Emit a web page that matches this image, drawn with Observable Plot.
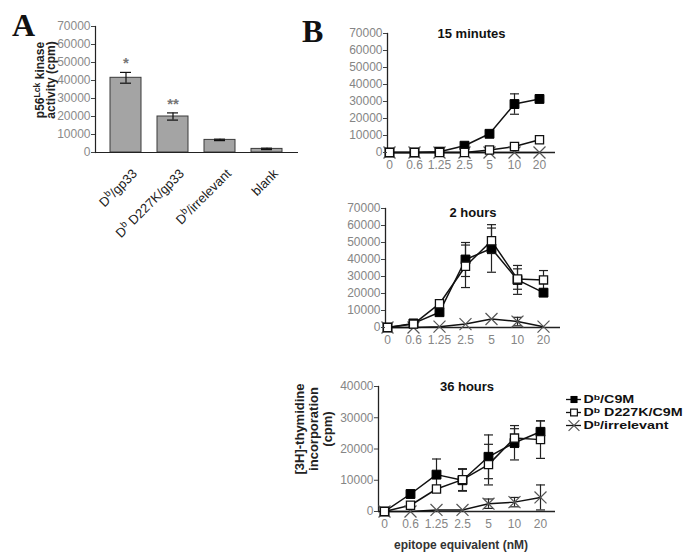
<!DOCTYPE html>
<html>
<head>
<meta charset="utf-8">
<script src="https://cdn.jsdelivr.net/npm/d3@7"></script>
<script src="https://cdn.jsdelivr.net/npm/@observablehq/plot@0.6"></script>
<style>
  html, body { margin: 0; padding: 0; background: #fff; }
  #root { position: relative; width: 693px; height: 559px; overflow: hidden; background: #fff; font-family: "Liberation Sans", Arial, sans-serif; }
  #root svg { position: absolute; overflow: visible; }
  .panel { position: absolute; font-family: "Liberation Serif", "Times New Roman", serif; font-weight: bold; font-size: 32px; line-height: 32px; color: #111; }
  .ylab { position: absolute; transform: translate(-50%, -50%) rotate(-90deg); white-space: nowrap; text-align: center; font-weight: bold; color: #222; }
  .ylab sup { font-size: 72%; line-height: 0; vertical-align: 0.45em; }
</style>
</head>
<body>
<div id="root"></div>
<script>
// ---------- Panel A data ----------
const catsA = ["D^b/gp33", "D^b D227K/gp33", "D^b/irrelevant", "blank"];
const kinaseA = [41500, 20000, 7000, 2000];
const kinaseErrA = [3000, 2000, 400, 400];
const sigA = ["*", "**", "", ""];
const yTicksA = [0, 10000, 20000, 30000, 40000, 50000, 60000, 70000];

// ---------- Panel B data ----------
const doses = ["0", "0.6", "1.25", "2.5", "5", "10", "20"];
const seriesB = ["D^b/C9M", "D^b D227K/C9M", "D^b/irrelevant"];

const min15_wt = [0, 0, 500, 4000, 11000, 28500, 31500];
const min15_wtErr = [0, 0, 0, 0, 0, 6000, 0];
const min15_mut = [0, 0, 0, 0, 1500, 3500, 7500];
const min15_mutErr = [0, 0, 0, 0, 0, 0, 0];
const min15_irr = [0, 0, 0, 0, 0, 0, 0];
const min15_irrErr = [0, 0, 0, 0, 0, 0, 0];

const h2_wt = [0, 2400, 9000, 40000, 46500, 28000, 20500];
const h2_wtErr = [0, 0, 0, 10000, 14000, 8500, 0];
const h2_mut = [0, 2000, 14000, 36000, 51000, 28500, 28000];
const h2_mutErr = [0, 0, 0, 12500, 7500, 6000, 5500];
const h2_irr = [0, 0, 500, 2000, 5000, 3500, 500];
const h2_irrErr = [0, 0, 0, 0, 0, 2500, 0];

const h36_wt = [0, 5600, 11800, 10000, 17500, 22000, 25500];
const h36_wtErr = [0, 0, 5000, 3500, 7000, 5500, 3500];
const h36_mut = [0, 2000, 7200, 10200, 15000, 23500, 23000];
const h36_mutErr = [0, 0, 0, 3500, 6500, 3000, 6000];
const h36_irr = [0, 0, 500, 500, 2500, 3000, 4500];
const h36_irrErr = [0, 0, 0, 0, 1500, 1500, 4000];

const yTicks70 = [0, 10000, 20000, 30000, 40000, 50000, 60000, 70000];
const yTicks40 = [0, 10000, 20000, 30000, 40000];

const titles = ["15 minutes", "2 hours", "36 hours"];
const xLabelB = "epitope equivalent (nM)";

// ---------- helpers ----------
const NS = "http://www.w3.org/2000/svg";
function supify(root, shift) {
  root.querySelectorAll("text").forEach(t => {
    if (t.querySelector("tspan")) return;
    const s = t.textContent;
    if (!s.includes("^")) return;
    const parts = s.split(/\^(\w+)/);
    t.textContent = "";
    let afterSup = false;
    parts.forEach((p, i) => {
      if (!p) return;
      const ts = document.createElementNS(NS, "tspan");
      ts.textContent = p;
      if (i % 2) {
        ts.setAttribute("dy", -shift);
        ts.style.fontSize = "0.72em";
        afterSup = true;
      } else if (afterSup) {
        ts.setAttribute("dy", shift);
        afterSup = false;
      }
      t.appendChild(ts);
    });
  });
}
// widen glyphs horizontally around each text's anchor (the source figure is horizontally stretched)
function stretchText(root, sx) {
  root.querySelectorAll("text").forEach(t => {
    let tf = t.getAttribute("transform") || "";
    const x = t.getAttribute("x");
    if (x != null && !isNaN(+x)) { tf += ` translate(${+x},0)`; t.removeAttribute("x"); }
    t.setAttribute("transform", tf + ` scale(${sx},1)`);
  });
}
const root = document.getElementById("root");
function place(svg, left, top) {
  svg.style.left = left + "px";
  svg.style.top = top + "px";
  root.appendChild(svg);
}
const fmt = d3.format("d");
const baseStyle = {fontFamily: "'Liberation Sans', Arial, sans-serif", fontSize: "12px", background: "transparent", overflow: "visible"};
// horizontal cap symbol for error bars (half-width = r)
const capSymbol = {draw(ctx, size) { const w = Math.sqrt(size / Math.PI); ctx.moveTo(-w, 0); ctx.lineTo(w, 0); }};

// ---------- Panel A ----------
const dataA = catsA.map((c, i) => ({cat: c, value: kinaseA[i], err: kinaseErrA[i], sig: sigA[i]}));
const svgA = Plot.plot({
  width: 303, height: 240,
  marginLeft: 95, marginRight: 5, marginTop: 26, marginBottom: 88,
  style: baseStyle,
  x: {type: "band", domain: catsA, paddingInner: 0.33, paddingOuter: 0.29},
  y: {domain: [0, 70000]},
  marks: [
    Plot.barY(dataA, {x: "cat", y: "value", fill: "#a4a4a4", stroke: "#3a3a3a", strokeWidth: 1}),
    Plot.ruleX(dataA, {x: "cat", y1: d => d.value - d.err, y2: d => d.value + d.err, stroke: "#111", strokeWidth: 1.2}),
    Plot.tickY(dataA, {x: "cat", y: d => d.value + d.err, insetLeft: 10, insetRight: 10, stroke: "#111", strokeWidth: 1.2}),
    Plot.tickY(dataA, {x: "cat", y: d => d.value - d.err, insetLeft: 10, insetRight: 10, stroke: "#111", strokeWidth: 1.2}),
    Plot.text(dataA, {x: "cat", y: d => d.value + d.err, text: "sig", dy: -9, fill: "#777", fontSize: 15, fontWeight: "bold"}),
    Plot.ruleY([0], {stroke: "#222", strokeWidth: 1.2}),
    Plot.frame({anchor: "left", stroke: "#222", strokeWidth: 1.2}),
    Plot.axisY({ticks: yTicksA, tickFormat: fmt, tickSize: 4, tickPadding: 1, fill: "#8a8a8a", stroke: "#444", label: null}),
    Plot.axisX({tickSize: 0, tickPadding: 19, tickRotate: -45, dx: 9, fill: "#222", fontSize: 13, label: null})
  ]
});
supify(svgA, 5);
place(svgA, 0, 0);

// ---------- Panel B ----------
function makeB(o) {
  const rows = [];
  const sets = [[o.wt, o.wtErr], [o.mut, o.mutErr], [o.irr, o.irrErr]];
  sets.forEach(([vals, errs], s) => vals.forEach((v, i) => rows.push({dose: doses[i], value: v, err: errs[i], series: seriesB[s]})));
  const errRows = rows.filter(d => d.err > 0);
  const bySeries = k => rows.filter(d => d.series === seriesB[k]);
  const marks = [
    Plot.ruleY([0], {stroke: "#222", strokeWidth: 1.3}),
    Plot.frame({anchor: "left", stroke: "#222", strokeWidth: 1.3}),
    Plot.line(rows, {x: "dose", y: "value", z: "series", stroke: "#111", strokeWidth: 1.5}),
    Plot.ruleX(errRows, {x: "dose", y1: d => d.value - d.err, y2: d => d.value + d.err, stroke: "#222", strokeWidth: 1.2}),
    Plot.dot(errRows, {x: "dose", y: d => d.value + d.err, symbol: capSymbol, r: 4.5, fill: "none", stroke: "#222", strokeWidth: 1.2}),
    Plot.dot(errRows, {x: "dose", y: d => d.value - d.err, symbol: capSymbol, r: 4.5, fill: "none", stroke: "#222", strokeWidth: 1.2}),
    Plot.dot(bySeries(2), {x: "dose", y: "value", symbol: "times", r: 5.5, stroke: "#555", strokeWidth: 1.2}),
    Plot.dot(bySeries(0), {x: "dose", y: "value", symbol: "square", r: 5, fill: "#000", stroke: "#000", strokeWidth: 1}),
    Plot.dot(bySeries(1), {x: "dose", y: "value", symbol: "square", r: 4.6, fill: "#fff", stroke: "#111", strokeWidth: 1.3}),
    Plot.axisY({ticks: o.ticks, tickFormat: fmt, tickSize: 4, tickPadding: 1, fill: "#858585", stroke: "#444", label: null}),
    Plot.axisX({tickSize: 0, tickPadding: 8, fill: "#858585", label: null}),
    Plot.text([o.title], {frameAnchor: "top", lineAnchor: "middle", dy: o.titleDy, fontWeight: "bold", fontSize: 13, fill: "#111"})
  ];
  if (o.xLabel) marks.push(Plot.text([o.xLabel], {frameAnchor: "bottom", lineAnchor: "middle", dy: 34, dx: -6, fontWeight: "bold", fontSize: 12, fill: "#333"}));
  const svg = Plot.plot({
    width: o.width, height: o.height,
    marginLeft: o.ml, marginRight: o.mr, marginTop: o.mt, marginBottom: o.mb,
    style: baseStyle,
    x: {type: "point", domain: doses, padding: o.padding, align: o.align},
    y: {domain: [0, o.ticks[o.ticks.length - 1]]},
    marks
  });
  place(svg, o.left, o.top);
  return svg;
}

makeB({wt: min15_wt, wtErr: min15_wtErr, mut: min15_mut, mutErr: min15_mutErr, irr: min15_irr, irrErr: min15_irrErr,
  ticks: yTicks70, title: titles[0], titleDy: 0, left: 300, top: 0, width: 270, height: 175,
  ml: 87, mr: 15, mt: 33, mb: 23, padding: 0.294, align: 0.133});

makeB({wt: h2_wt, wtErr: h2_wtErr, mut: h2_mut, mutErr: h2_mutErr, irr: h2_irr, irrErr: h2_irrErr,
  ticks: yTicks70, title: titles[1], titleDy: 4, left: 300, top: 175, width: 270, height: 175,
  ml: 85, mr: 10, mt: 33, mb: 23, padding: 0.302, align: 0.125});

makeB({wt: h36_wt, wtErr: h36_wtErr, mut: h36_mut, mutErr: h36_mutErr, irr: h36_irr, irrErr: h36_irrErr,
  ticks: yTicks40, title: titles[2], titleDy: 0, xLabel: xLabelB, left: 300, top: 360, width: 270, height: 199,
  ml: 78, mr: 15, mt: 26, mb: 48, padding: 0.34, align: 0.28});

// ---------- Legend ----------
const svgL = Plot.plot({
  width: 133, height: 44,
  marginLeft: 6, marginRight: 112, marginTop: 2, marginBottom: 2,
  style: baseStyle,
  y: {type: "point", domain: seriesB, padding: 0.5, axis: null},
  marks: [
    Plot.ruleY(seriesB, {y: d => d, stroke: "#111", strokeWidth: 1.3}),
    Plot.dot([seriesB[0]], {y: d => d, frameAnchor: "middle", symbol: "square", r: 4, fill: "#000"}),
    Plot.dot([seriesB[1]], {y: d => d, frameAnchor: "middle", symbol: "square", r: 3.8, fill: "#fff", stroke: "#111", strokeWidth: 1.2}),
    Plot.dot([seriesB[2]], {y: d => d, frameAnchor: "middle", symbol: "times", r: 5, stroke: "#555", strokeWidth: 1.2}),
    Plot.text(seriesB, {y: d => d, text: d => d, frameAnchor: "right", textAnchor: "start", dx: 2, fontWeight: "bold", fontSize: 11, fill: "#111"})
  ]
});
supify(svgL, 3);
stretchText(svgL, 1.3);
place(svgL, 560, 390);

// ---------- HTML labels ----------
function addDiv(cls, html, style) {
  const d = document.createElement("div");
  d.className = cls;
  d.innerHTML = html;
  Object.assign(d.style, style);
  root.appendChild(d);
}
addDiv("panel", "A", {left: "12px", top: "9px"});
addDiv("panel", "B", {left: "302px", top: "15px"});
addDiv("ylab", "p56<sup>Lck</sup> kinase<br>activity (cpm)", {left: "46px", top: "80px", fontSize: "12px", lineHeight: "11px"});
addDiv("ylab", "[3H]-thymidine<br>incorporation<br>(cpm)", {left: "314px", top: "429px", fontSize: "13px", lineHeight: "14px"});
</script>
</body>
</html>
